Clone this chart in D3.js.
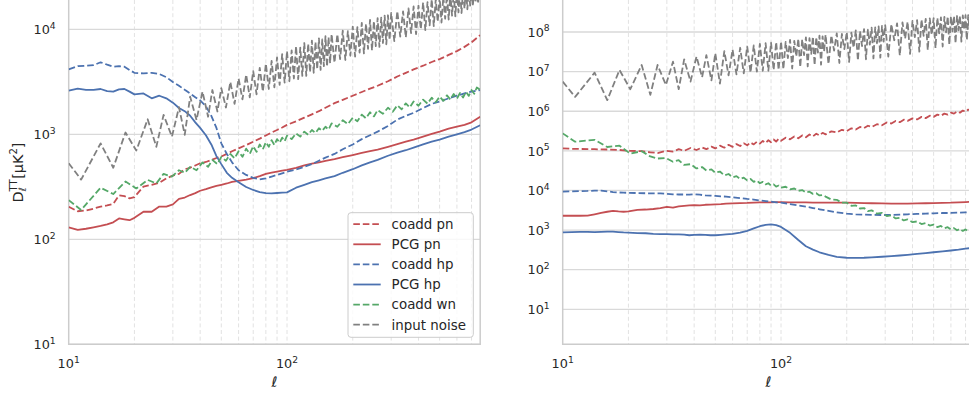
<!DOCTYPE html>
<html><head><meta charset="utf-8">
<script src="https://cdn.jsdelivr.net/npm/d3@7"></script>
<style>body{margin:0;background:#fff;overflow:hidden} svg{display:block}</style>
</head><body><svg id="c" width="969" height="394"></svg>
<script>
// ---------- DATA ----------
// multipole grid for the input-noise spectra (alternating peak / trough samples)
const noiseEll = [10, 11.4, 14, 16, 18.2, 20.4, 23, 25.2, 27.2, 29.7, 32, 34, 36, 38.5, 41, 43.5, 45.5, 48, 50, 52.5,
  55, 57.5, 60, 62.5, 65, 67.5, 70, 72.5, 75, 77.5, 80, 82.5, 85, 87.5, 90, 92.5, 95, 97.5,
  100, 102.5, 105, 107.5, 110, 112.5, 115, 117.5, 120, 122.5, 125, 127.5, 130, 132.5, 135, 137.5, 140, 142.5, 145, 147.5,
  150, 152.5, 155, 157.5,
  160, 165, 170, 175, 180, 185, 190, 195, 200, 205, 210, 215, 220, 225, 230, 235, 240, 245, 250, 255,
  260, 265, 270, 275, 280, 285, 290, 295,
  300, 310, 320, 330, 340, 350, 360, 370, 380, 390, 400, 410, 420, 430, 440, 450, 460, 470, 480, 490,
  500, 510, 520, 530, 540, 550, 560, 570, 580, 590, 600, 610, 620, 630, 640, 650, 660, 670, 680, 690,
  700, 710, 720, 730, 740, 750, 760, 767];
// multipole grid for the white-noise coadd spectra (alternating samples)
const fineEll = [10, 11.4, 14, 16, 18.2, 20.4, 23, 25.2, 27.2, 29.7, 32, 34, 36, 38.5, 41, 43.5, 45.5, 48, 50, 52.5,
  55, 57.5, 60, 62.5, 65, 67.5, 70, 72.5, 75, 77.5, 80, 82.5, 85, 87.5, 90, 92.5, 95, 97.5, 100, 105,
  110, 115, 120, 125, 130, 135, 140, 145, 150, 155, 160, 170, 180, 190, 200, 210, 220, 230, 240, 250,
  260, 275, 290, 305, 320, 335, 350, 365, 380, 400, 420, 440, 460, 480, 500, 520, 540, 560, 580, 600,
  620, 640, 660, 680, 700, 720, 740, 767];
// coarse multipole grid for the smooth spectra
const coarseEll = [10, 11, 12, 13, 14, 15, 16, 17, 18, 19, 20, 22, 24, 26, 28, 30, 32, 34, 36, 38, 40, 42.5, 45, 47.5, 50,
  53, 56, 60, 65, 70, 75, 80, 85, 90, 95, 100, 110, 120, 130, 140, 150, 165, 180, 200, 220, 240, 260, 290, 320, 350,
  380, 420, 460, 500, 550, 600, 650, 700, 767];

// ----- left panel -----
const leftCoaddPn = [204, 185, 188, 196, 205, 210, 218, 262, 258, 245, 252, 318, 330, 345, 380, 405, 420, 465, 480, 505, 530,
  545, 570, 595, 615, 650, 690, 735, 790, 850, 910, 975, 1040, 1100, 1160, 1230, 1330, 1440, 1550, 1660, 1790, 1980, 2130,
  2330, 2530, 2720, 2900, 3200, 3550, 3850, 4150, 4500, 4880, 5200, 5700, 6200, 6800, 7500, 8800];
const leftPcgPn = [130, 123, 126, 130, 134, 139, 145, 158, 155, 152, 160, 183, 183, 205, 205, 215, 243, 250, 264, 275, 290,
  300, 312, 322, 330, 340, 352, 360, 370, 382, 400, 420, 432, 442, 450, 458, 480, 505, 525, 540, 558, 580, 605, 635, 665,
  690, 715, 760, 805, 850, 890, 950, 1010, 1060, 1130, 1180, 1230, 1300, 1470];
const leftCoaddHp = [4160, 4450, 4500, 4550, 4850, 4600, 4400, 4450, 4400, 4100, 3850, 3800, 3850, 3750, 3500, 3150, 2900,
  2650, 2450, 2250, 2100, 1850, 1500, 1150, 820, 650, 540, 455, 410, 385, 372, 380, 395, 410, 425, 440, 462, 490, 520,
  560, 600, 650, 720, 800, 900, 980, 1060, 1200, 1380, 1500, 1600, 1780, 1950, 2050, 2200, 2330, 2450, 2550, 2640];
const leftPcgHp = [2600, 2720, 2650, 2650, 2700, 2580, 2550, 2680, 2700, 2550, 2400, 2450, 2200, 2330, 2200, 2000, 1780,
  1660, 1500, 1300, 1150, 980, 800, 620, 520, 430, 385, 350, 315, 295, 282, 275, 274, 276, 278, 280, 310, 330, 350, 365,
  380, 400, 430, 465, 505, 540, 570, 625, 670, 705, 745, 800, 850, 890, 950, 1000, 1050, 1110, 1220];
const leftCoaddWn = [236, 190, 310, 270, 355, 305, 368, 340, 420, 395, 455, 430, 490, 455, 540, 490, 570, 520, 610, 560,
  650, 590, 690, 610, 730, 650, 770, 680, 800, 720, 840, 760, 880, 790, 900, 830, 930, 860, 970, 900,
  1020, 950, 1060, 990, 1100, 1030, 1140, 1080, 1180, 1110, 1270, 1180, 1360, 1250, 1440, 1330, 1540, 1420, 1620, 1480,
  1700, 1570, 1790, 1640, 1890, 1730, 1970, 1800, 2050, 1870, 2140, 1960, 2230, 2020, 2290, 2080, 2350, 2140, 2420, 2190,
  2470, 2240, 2540, 2320, 2640, 2430, 2790, 2650];
const leftInputNoise = [530, 370, 820, 480, 1040, 700, 1390, 760, 1530, 950, 1810, 990, 2280, 1370, 2550, 1470, 2640, 1650, 2750, 1800,
  3150, 1950, 3400, 2150, 3700, 2250, 4000, 2400, 4300, 2550, 4700, 2700, 5000, 2800, 5400, 2950, 5800, 3100,
  6200, 3200, 6300, 3400, 6900, 3350, 6700, 3600, 7400, 3600, 7300, 3900, 7800, 3850, 7600, 4150, 8200, 4100, 8000, 4450,
  8600, 4400, 8400, 4750,
  9000, 4800, 9000, 5200, 9700, 5100, 9600, 5600, 10600, 5500, 10500, 6000, 11500, 5900, 11300, 6500, 12300, 6300, 12000, 6900,
  12800, 6800, 12900, 7400, 13500, 7200, 13600, 7900,
  14300, 7700, 14900, 8500, 14800, 8400, 15800, 9200, 16500, 9000, 16800, 10000, 18000, 9800, 18100, 10900, 19300, 10700, 19400, 11800,
  20400, 11600, 20600, 12600, 21500, 12400, 21800, 13500, 22500, 13300, 22900, 14500, 23500, 14300, 24200, 15700, 24800, 15500, 25300, 16800,
  26000, 16600, 26300, 17900, 27000, 17600, 27500, 19000];

// ----- right panel -----
const rightCoaddPn = [1.15e5, 1.12e5, 1.1e5, 1.08e5, 1.05e5, 1.0e5, 9.8e4, 9.2e4, 8.8e4, 1.0e5, 9.6e4, 1.1e5, 1.0e5, 1.18e5, 1.05e5, 1.22e5, 1.1e5, 1.28e5, 1.15e5, 1.35e5,
  1.2e5, 1.42e5, 1.26e5, 1.48e5, 1.32e5, 1.55e5, 1.38e5, 1.62e5, 1.45e5, 1.7e5, 1.52e5, 1.78e5, 1.58e5, 1.85e5, 1.65e5, 1.93e5, 1.72e5, 2.0e5, 1.8e5, 2.15e5,
  1.95e5, 2.3e5, 2.08e5, 2.45e5, 2.2e5, 2.58e5, 2.32e5, 2.7e5, 2.45e5, 2.85e5, 2.6e5, 3.1e5, 2.9e5, 3.4e5, 3.15e5, 3.7e5, 3.45e5, 4.0e5, 3.75e5, 4.3e5,
  4.0e5, 4.7e5, 4.4e5, 5.2e5, 4.9e5, 5.7e5, 5.3e5, 6.1e5, 5.7e5, 6.6e5, 6.2e5, 7.2e5, 6.7e5, 7.7e5, 7.2e5, 8.2e5, 7.7e5, 8.7e5, 8.2e5, 9.2e5,
  8.7e5, 9.8e5, 9.2e5, 1.04e6, 9.8e5, 1.1e6, 1.04e6, 1.15e6];
const rightPcgPn = [2300, 2300, 2300, 2320, 2500, 2700, 2900, 3050, 2950, 2900, 2950, 3250, 3300, 3400, 3600, 3850, 3700,
  3950, 4100, 4200, 4250, 4200, 4350, 4400, 4450, 4500, 4650, 4700, 4800, 4850, 4950, 5000, 5000, 5000, 5050, 5050, 5000,
  5000, 5000, 4950, 4950, 4950, 4900, 4900, 4850, 4800, 4750, 4700, 4650, 4650, 4650, 4700, 4750, 4800, 4850, 4900, 5000,
  5100, 5200];
const rightCoaddHp = [9300, 9500, 9600, 9700, 9900, 9900, 9500, 9100, 8900, 8800, 8700, 8600, 8500, 8450, 8400, 8200, 8000,
  7900, 7900, 7800, 8000, 7800, 7500, 7400, 7300, 7100, 7000, 6700, 6400, 6100, 5900, 5600, 5400, 5200, 5000, 4900, 4500,
  4200, 3900, 3600, 3350, 3050, 2800, 2600, 2500, 2450, 2420, 2400, 2400, 2450, 2500, 2550, 2600, 2650, 2700, 2700, 2750,
  2800, 2850];
const rightPcgHp = [870, 890, 900, 900, 890, 900, 910, 910, 890, 870, 860, 840, 830, 800, 790, 790, 780, 780, 770, 740, 760,
  770, 760, 740, 740, 760, 780, 800, 860, 950, 1100, 1250, 1350, 1390, 1330, 1200, 850, 560, 390, 320, 275, 235, 210, 200,
  198, 200, 205, 212, 220, 228, 237, 250, 263, 275, 290, 305, 320, 340, 360];
const rightCoaddWn = [2.76e5, 1.7e5, 1.9e5, 1.25e5, 1.35e5, 8.5e4, 9.8e4, 7.2e4, 6.4e4, 6.6e4, 5.3e4, 5.8e4, 4.4e4, 4.6e4, 3.6e4, 3.9e4, 3.2e4, 3.4e4, 2.8e4, 3.0e4,
  2.4e4, 2.6e4, 2.15e4, 2.3e4, 1.95e4, 2.1e4, 1.8e4, 1.95e4, 1.65e4, 1.78e4, 1.52e4, 1.65e4, 1.42e4, 1.52e4, 1.33e4, 1.42e4, 1.25e4, 1.33e4, 1.18e4, 1.24e4,
  1.07e4, 1.12e4, 9800, 10200, 8900, 9300, 8200, 8500, 7500, 7700, 7000, 5900, 5800, 4900, 4900, 4100, 4200, 3500, 3600, 3000,
  3150, 2600, 2700, 2250, 2350, 1970, 2050, 1750, 1850, 1580, 1650, 1420, 1500, 1300, 1380, 1190, 1270, 1110, 1180, 1040,
  1120, 990, 1070, 950, 1040, 930, 1010, 910];
const rightInputNoise = [5.6e6, 2.3e6, 9.4e6, 1.9e6, 1.1e7, 3.6e6, 1.47e7, 2.6e6, 1.47e7, 4.6e6, 1.78e7, 3.6e6, 2.04e7, 5.6e6, 2.4e7, 7.2e6, 2.6e7, 6e6, 2.9e7, 5e6,
  3.3e7, 8e6, 3.6e7, 8.5e6, 4e7, 9e6, 4.3e7, 9.5e6, 4.6e7, 1.0e7, 5e7, 1.05e7, 5.2e7, 1.05e7, 5.4e7, 1.1e7, 5.6e7, 1.1e7,
  5.8e7, 1.15e7, 5.6e7, 2.2e7, 6.3e7, 1.2e7, 6.0e7, 2.4e7, 6.8e7, 1.3e7, 6.5e7, 2.6e7, 7.3e7, 1.35e7, 7.0e7, 2.8e7, 7.7e7, 1.45e7, 7.4e7, 3.0e7,
  8.1e7, 1.5e7, 7.8e7, 3.2e7,
  8.5e7, 1.55e7, 8.2e7, 3.4e7, 9.2e7, 1.65e7, 8.9e7, 3.7e7, 1.0e8, 1.75e7, 9.7e7, 4.0e7, 1.1e8, 1.9e7, 1.06e8, 4.4e7, 1.18e8, 2.05e7, 1.15e8, 4.8e7,
  1.28e8, 2.15e7, 1.3e8, 5.2e7, 1.38e8, 2.25e7, 1.42e8, 5.7e7,
  1.5e8, 2.4e7, 1.58e8, 6.2e7, 1.65e8, 2.55e7, 1.75e8, 6.8e7, 1.83e8, 2.8e7, 1.9e8, 7.4e7, 2.0e8, 3.2e7, 2.06e8, 8.0e7, 2.15e8, 3.5e7, 2.2e8, 8.6e7,
  2.25e8, 3.9e7, 2.3e8, 9.2e7, 2.35e8, 4.3e7, 2.4e8, 9.8e7, 2.45e8, 4.8e7, 2.48e8, 1.04e8, 2.52e8, 5.2e7, 2.56e8, 1.1e8, 2.6e8, 5.7e7, 2.62e8, 1.15e8,
  2.65e8, 6.3e7, 2.68e8, 1.2e8, 2.72e8, 6.9e7, 2.75e8, 7.3e7];

const legendLabels = ["coadd pn", "PCG pn", "coadd hp", "PCG hp", "coadd wn", "input noise"];
const leftYTicks = [1, 2, 3, 4];          // exponents
const rightYTicks = [1, 2, 3, 4, 5, 6, 7, 8];
const xTicks = [1, 2];                    // exponents
const xMinor = [20, 30, 40, 50, 60, 70, 80, 90, 100, 200, 300, 400, 500, 600, 700];

// ---------- STYLE ----------
const C = {red: "#C44E52", blue: "#4C72B0", green: "#55A868", gray: "#808080", text: "#262626"};
const FONT = "DejaVu Sans, Liberation Sans, sans-serif";
const DASH = "6.6,2.9";
const LW = 1.8;

const seriesStyle = [
  {color: C.red, dash: true}, {color: C.red, dash: false},
  {color: C.blue, dash: true}, {color: C.blue, dash: false},
  {color: C.green, dash: true}, {color: C.gray, dash: true}
];

const panels = [
  {x0: 68.7, yDomain: [10, Math.pow(10, 4.279)], yTicks: leftYTicks, legend: true,
   series: [[coarseEll, leftCoaddPn], [coarseEll, leftPcgPn], [coarseEll, leftCoaddHp], [coarseEll, leftPcgHp],
            [fineEll, leftCoaddWn], [noiseEll, leftInputNoise]]},
  {x0: 562.7, yDomain: [Math.pow(10, 0.116), Math.pow(10, 8.808)], yTicks: rightYTicks, legend: false,
   series: [[fineEll, rightCoaddPn], [coarseEll, rightPcgPn], [coarseEll, rightCoaddHp], [coarseEll, rightPcgHp],
            [fineEll, rightCoaddWn], [noiseEll, rightInputNoise]]}
];

const W = 411.5, TOP = 0, BOTTOM = 344.3;
const svg = d3.select("#c");

function supText(sel, base, exp, size) {
  sel.text(null);
  sel.append("tspan").text(base);
  sel.append("tspan").attr("dy", -size * 0.42).attr("font-size", size * 0.72).text(exp);
}

panels.forEach((p, pi) => {
  const x = d3.scaleLog().domain([10, 767]).range([p.x0, p.x0 + W]);
  const y = d3.scaleLog().domain(p.yDomain).range([BOTTOM, TOP]);
  const g = svg.append("g");

  const clipId = "clip" + pi;
  svg.append("clipPath").attr("id", clipId).append("rect")
    .attr("x", p.x0).attr("y", TOP).attr("width", W).attr("height", BOTTOM - TOP);

  // vertical dashed grid
  g.append("g").selectAll("line").data(xMinor).join("line")
    .attr("x1", d => x(d)).attr("x2", d => x(d)).attr("y1", TOP).attr("y2", BOTTOM)
    .attr("stroke", "#e2e2e2").attr("stroke-width", 1).attr("stroke-dasharray", "4,2.6");
  // horizontal major grid
  g.append("g").selectAll("line").data(p.yTicks).join("line")
    .attr("x1", p.x0).attr("x2", p.x0 + W).attr("y1", d => y(Math.pow(10, d))).attr("y2", d => y(Math.pow(10, d)))
    .attr("stroke", "#d9d9d9").attr("stroke-width", 1.3);

  // spines
  g.append("line").attr("x1", p.x0).attr("x2", p.x0).attr("y1", TOP).attr("y2", BOTTOM)
    .attr("stroke", "#cccccc").attr("stroke-width", 1.5);
  g.append("line").attr("x1", p.x0 + W).attr("x2", p.x0 + W).attr("y1", TOP).attr("y2", BOTTOM)
    .attr("stroke", "#cccccc").attr("stroke-width", 1.5);
  g.append("line").attr("x1", p.x0 - 0.75).attr("x2", p.x0 + W + 0.75).attr("y1", BOTTOM).attr("y2", BOTTOM)
    .attr("stroke", "#cccccc").attr("stroke-width", 1.5);

  // series
  const line = d3.line().x(d => x(d[0])).y(d => y(d[1]));
  const lg = g.append("g").attr("clip-path", `url(#${clipId})`);
  p.series.forEach((s, i) => {
    const st = seriesStyle[i];
    lg.append("path").datum(d3.zip(s[0], s[1])).attr("d", line)
      .attr("fill", "none").attr("stroke", st.color).attr("stroke-width", LW)
      .attr("stroke-linejoin", "round")
      .attr("stroke-dasharray", st.dash ? DASH : null);
  });

  // y tick labels
  g.append("g").selectAll("text").data(p.yTicks).join("text")
    .attr("x", p.x0 - 13).attr("y", d => y(Math.pow(10, d)) + 4.7)
    .attr("text-anchor", "end").attr("font-family", FONT).attr("font-size", 12.8).attr("fill", C.text)
    .each(function (d) { supText(d3.select(this), "10", String(d), 12.8); });
  // x tick labels
  g.append("g").selectAll("text").data(xTicks).join("text")
    .attr("x", d => x(Math.pow(10, d))).attr("y", 368)
    .attr("text-anchor", "middle").attr("font-family", FONT).attr("font-size", 12.8).attr("fill", C.text)
    .each(function (d) { supText(d3.select(this), "10", String(d), 12.8); });
  // x label
  g.append("text").attr("x", p.x0 + W / 2).attr("y", 386.5).attr("text-anchor", "middle")
    .attr("font-family", FONT).attr("font-size", 14.4).attr("font-style", "italic").attr("fill", C.text).text("ℓ");

  if (p.legend) {
    const lx = 348, ly = 212.7, lw = 125.3, lh = 124.6;
    const leg = g.append("g");
    leg.append("rect").attr("x", lx).attr("y", ly).attr("width", lw).attr("height", lh).attr("rx", 3)
      .attr("fill", "white").attr("fill-opacity", 0.8).attr("stroke", "#cccccc").attr("stroke-width", 1);
    legendLabels.forEach((lab, i) => {
      const yy = 224.2 + i * 20.1;
      const st = seriesStyle[i];
      leg.append("line").attr("x1", 353.3).attr("x2", 380.7).attr("y1", yy).attr("y2", yy)
        .attr("stroke", st.color).attr("stroke-width", LW).attr("stroke-dasharray", st.dash ? DASH : null);
      leg.append("text").attr("x", 391.6).attr("y", yy + 4.8).attr("font-family", FONT).attr("font-size", 13.4)
        .attr("fill", C.text).text(lab);
    });
  }
});

// y axis label (left panel): D_ℓ^TT [μK^2]
(function () {
  const fs = 14.4;
  const g = svg.append("g").attr("transform", "translate(23.3,172.5) rotate(-90)");
  let cx = 0;
  const put = (txt, size, dy, italic) => {
    const t = g.append("text").attr("x", cx).attr("y", dy).attr("font-family", FONT).attr("font-size", size)
      .attr("fill", C.text).attr("font-style", italic ? "italic" : null).text(txt);
    return t.node().getComputedTextLength();
  };
  cx += put("D", fs, 0);
  const w1 = put("TT", fs * 0.7, -fs * 0.45);
  const w2 = put("ℓ", fs * 0.7, fs * 0.22, true);
  cx += Math.max(w1, w2) + 0.5;
  cx += put("[μK", fs, 0);
  cx += put("2", fs * 0.7, -fs * 0.42);
  cx += put("]", fs, 0);
  g.selectAll("text").attr("x", function () { return +d3.select(this).attr("x") - cx / 2; });
})();
</script>
</body></html>
